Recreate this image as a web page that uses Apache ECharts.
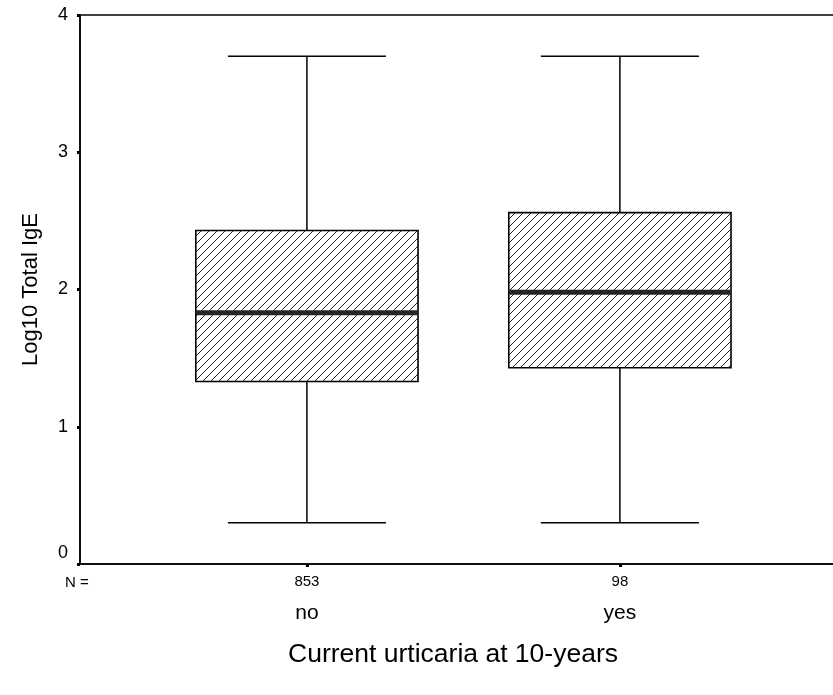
<!DOCTYPE html>
<html>
<head>
<meta charset="utf-8">
<script src="https://cdn.jsdelivr.net/npm/echarts@6/dist/echarts.min.js"></script>
<style>
  html, body { margin: 0; padding: 0; background: #fff; }
  #chart { width: 833px; height: 695px; }
</style>
</head>
<body>
<div id="chart"></div>
<script>
// Groups and their sample sizes
const categories = ['no', 'yes'];
const counts = [853, 98];

// Box-plot statistics for Log10 Total IgE per group
const whiskerLow = [0.30, 0.30];
const quartile1 = [1.33, 1.43];
const medians = [1.83, 1.98];
const quartile3 = [2.43, 2.56];
const whiskerHigh = [3.70, 3.70];

// Y-axis ticks
const yTicks = [0, 1, 2, 3, 4];

const FONT = '"Liberation Sans", Arial, sans-serif';

// Diagonal hatch used to fill the boxes
function makeHatch() {
  const s = 8;
  const c = document.createElement('canvas');
  c.width = s; c.height = s;
  const g = c.getContext('2d');
  g.fillStyle = '#fff';
  g.fillRect(0, 0, s, s);
  g.strokeStyle = '#222';
  g.lineWidth = 1;
  g.beginPath();
  g.moveTo(-1, s + 1); g.lineTo(s + 1, -1);
  g.moveTo(-1, 1); g.lineTo(1, -1);
  g.moveTo(s - 1, s + 1); g.lineTo(s + 1, s - 1);
  g.stroke();
  return c;
}
const hatch = makeHatch();

const boxData = categories.map((c, i) =>
  [i, whiskerLow[i], quartile1[i], medians[i], quartile3[i], whiskerHigh[i]]);

function renderBox(params, api) {
  const x = api.value(0);
  const unit = api.size([1, 0])[0];
  const boxHalf = unit * 0.355;
  const capHalf = unit * 0.2525;
  const pLow = api.coord([x, api.value(1)]);
  const pQ1 = api.coord([x, api.value(2)]);
  const pMed = api.coord([x, api.value(3)]);
  const pQ3 = api.coord([x, api.value(4)]);
  const pHigh = api.coord([x, api.value(5)]);
  const cx = pMed[0];
  const line = { stroke: '#000', lineWidth: 1.5 };
  return {
    type: 'group',
    children: [
      { type: 'line', shape: { x1: cx, y1: pHigh[1], x2: cx, y2: pQ3[1] }, style: line },
      { type: 'line', shape: { x1: cx, y1: pQ1[1], x2: cx, y2: pLow[1] }, style: line },
      { type: 'line', shape: { x1: cx - capHalf, y1: pHigh[1], x2: cx + capHalf, y2: pHigh[1] }, style: line },
      { type: 'line', shape: { x1: cx - capHalf, y1: pLow[1], x2: cx + capHalf, y2: pLow[1] }, style: line },
      {
        type: 'rect',
        shape: { x: cx - boxHalf, y: pQ3[1], width: boxHalf * 2, height: pQ1[1] - pQ3[1] },
        style: { fill: { type: 'pattern', image: hatch, repeat: 'repeat' }, stroke: '#000', lineWidth: 1.6 }
      },
      { type: 'line', shape: { x1: cx - boxHalf, y1: pMed[1], x2: cx + boxHalf, y2: pMed[1] },
        style: { stroke: '#262626', lineWidth: 5 } }
    ]
  };
}

const chart = echarts.init(document.getElementById('chart'), null, { renderer: 'canvas' });
chart.setOption({
  animation: false,
  backgroundColor: '#fff',
  textStyle: { fontFamily: FONT, color: '#000' },
  grid: {
    left: 80, top: 15, width: 764, height: 549,
    outerBoundsMode: 'none',
    containLabel: false,
    show: true, borderColor: '#000', borderWidth: 1.5, backgroundColor: 'transparent'
  },
  xAxis: {
    type: 'value',
    min: -0.725,
    max: 1.716,
    splitLine: { show: false },
    axisLine: { show: true, onZero: false, lineStyle: { color: '#000', width: 1.5 } },
    axisTick: { show: true, customValues: [0, 1], length: 3, lineStyle: { color: '#000', width: 3 } },
    axisLabel: {
      customValues: [0, 1],
      margin: 8,
      formatter: v => '{n|' + counts[Math.round(v)] + '}\n{c|' + categories[Math.round(v)] + '}',
      rich: {
        n: { fontSize: 15, lineHeight: 20, fontFamily: FONT, color: '#000' },
        c: { fontSize: 21, lineHeight: 42, fontFamily: FONT, color: '#000' }
      }
    },
    name: 'Current urticaria at 10-years',
    nameLocation: 'middle',
    nameGap: 77,
    nameTextStyle: { fontSize: 26.5, fontFamily: FONT, color: '#000', padding: [0, 18, 0, 0] }
  },
  yAxis: {
    type: 'value',
    min: yTicks[0],
    max: yTicks[yTicks.length - 1],
    interval: 1,
    splitLine: { show: false },
    axisLine: { show: true, onZero: false, lineStyle: { color: '#000', width: 1.5 } },
    axisTick: { show: true, length: 3, lineStyle: { color: '#000', width: 3 } },
    axisLabel: {
      fontSize: 18, margin: 12, color: '#000', fontFamily: FONT,
      // the zero label sits a little above its tick, clear of the group labels
      formatter: v => (v === 0 ? '{z|0}' : String(v)),
      rich: { z: { fontSize: 18, fontFamily: FONT, color: '#000', padding: [0, 0, 22, 0] } }
    },
    name: 'Log10 Total IgE',
    nameLocation: 'middle',
    nameGap: 38,
    nameTextStyle: { fontSize: 22, fontFamily: FONT, color: '#000' }
  },
  graphic: [
    { type: 'text', x: 65, y: 582.5,
      style: { text: 'N =', fontSize: 15, fontFamily: FONT, fill: '#000', verticalAlign: 'middle' } }
  ],
  series: [{
    type: 'custom',
    renderItem: renderBox,
    encode: { x: 0, y: [1, 2, 3, 4, 5] },
    data: boxData,
    clip: false
  }]
});
</script>
</body>
</html>
